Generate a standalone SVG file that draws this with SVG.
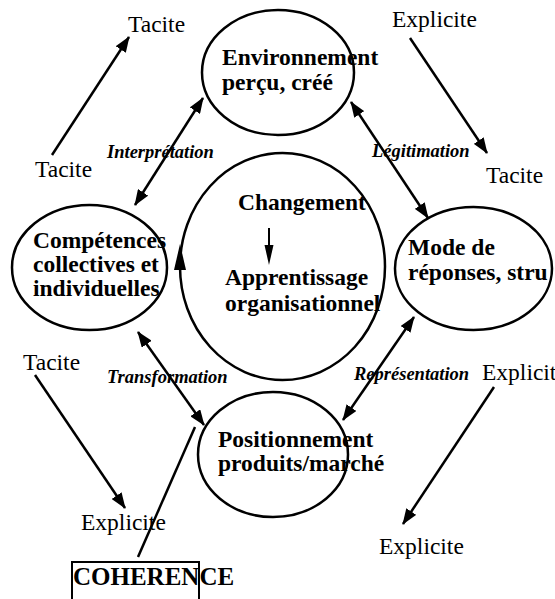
<svg xmlns="http://www.w3.org/2000/svg" width="555" height="599" viewBox="0 0 555 599">
  <defs>
    <marker id="ah" viewBox="0 0 16 12" refX="15" refY="6" markerWidth="16" markerHeight="12" markerUnits="userSpaceOnUse" orient="auto-start-reverse">
      <path d="M0,0 L16,6 L0,12 z" fill="#000"/>
    </marker>
  </defs>
  <style>
    .node ellipse { fill: none; stroke: #000; stroke-width: 2.5; }
    .nt { font-family: "Liberation Serif", "Times New Roman", serif; font-weight: bold; font-size: 23.5px; fill: #000; }
    .lab { font-family: "Liberation Serif", "Times New Roman", serif; font-size: 23.5px; fill: #000; }
    .it { font-family: "Liberation Serif", "Times New Roman", serif; font-weight: bold; font-style: italic; font-size: 18.5px; fill: #000; }
    .cn line { stroke: #000; stroke-width: 2.5; }
    .dbl { marker-start: url(#ah); marker-end: url(#ah); }
    .one { marker-end: url(#ah); }
  </style>
  <rect width="555" height="599" fill="#fff"/>

  <g id="environnement" class="node">
    <ellipse cx="278" cy="72.5" rx="76" ry="62.5"/>
    <text class="nt" x="222" y="65">Environnement</text>
    <text class="nt" x="222" y="90">perçu, créé</text>
  </g>

  <g id="changement" class="node">
    <ellipse cx="282.5" cy="266.5" rx="102.5" ry="113.5"/>
    <polygon points="180,244 174,270 186,270" fill="#000"/>
    <text class="nt" x="238" y="210">Changement</text>
    <line x1="269" y1="228" x2="269" y2="250" stroke="#000" stroke-width="2"/>
    <polygon points="264.5,245 273.5,245 269,265" fill="#000"/>
    <text class="nt" x="225" y="285">Apprentissage</text>
    <text class="nt" x="225" y="311">organisationnel</text>
  </g>

  <g id="competences" class="node">
    <ellipse cx="89.5" cy="267.5" rx="77.5" ry="62.5"/>
    <text class="nt" x="33" y="248">Compétences</text>
    <text class="nt" x="33" y="272">collectives et</text>
    <text class="nt" x="33" y="296">individuelles</text>
  </g>

  <g id="mode" class="node">
    <ellipse cx="473.5" cy="268.5" rx="78.5" ry="61.5"/>
    <text class="nt" x="408" y="255">Mode de</text>
    <text class="nt" x="408" y="280">réponses, stru</text>
  </g>

  <g id="positionnement" class="node">
    <ellipse cx="273" cy="454.5" rx="75" ry="62.5"/>
    <text class="nt" x="218" y="447">Positionnement</text>
    <text class="nt" x="218" y="471">produits/marché</text>
  </g>

  <g id="coherence" class="node">
    <rect x="72" y="562" width="127" height="40" fill="none" stroke="#000" stroke-width="2"/>
    <text class="nt" x="73" y="585" style="font-size:25px">COHERENCE</text>
  </g>

  <g id="labels">
    <text class="lab" x="128" y="32">Tacite</text>
    <text class="lab" x="35" y="177">Tacite</text>
    <text class="lab" x="392" y="27">Explicite</text>
    <text class="lab" x="486" y="183">Tacite</text>
    <text class="lab" x="23" y="370">Tacite</text>
    <text class="lab" x="482" y="380">Explicit</text>
    <text class="lab" x="81" y="530">Explicite</text>
    <text class="lab" x="379" y="554">Explicite</text>
    <text class="it" x="107" y="158">Interprétation</text>
    <text class="it" x="372" y="157">Légitimation</text>
    <text class="it" x="107" y="383">Transformation</text>
    <text class="it" x="354" y="380">Représentation</text>
  </g>

  <g id="connectors" class="cn">
    <line class="dbl" x1="135" y1="205" x2="203" y2="98"/>
    <line class="dbl" x1="351" y1="102" x2="428" y2="218"/>
    <line class="dbl" x1="138" y1="332" x2="204" y2="425"/>
    <line class="dbl" x1="414" y1="317" x2="343" y2="420"/>
    <line class="one" x1="52" y1="155" x2="129" y2="37"/>
    <line class="one" x1="410" y1="38" x2="487" y2="153"/>
    <line class="one" x1="35" y1="375" x2="125" y2="508"/>
    <line class="one" x1="494" y1="387" x2="403" y2="524"/>
    <line x1="195" y1="427" x2="138" y2="557"/>
  </g>
</svg>
